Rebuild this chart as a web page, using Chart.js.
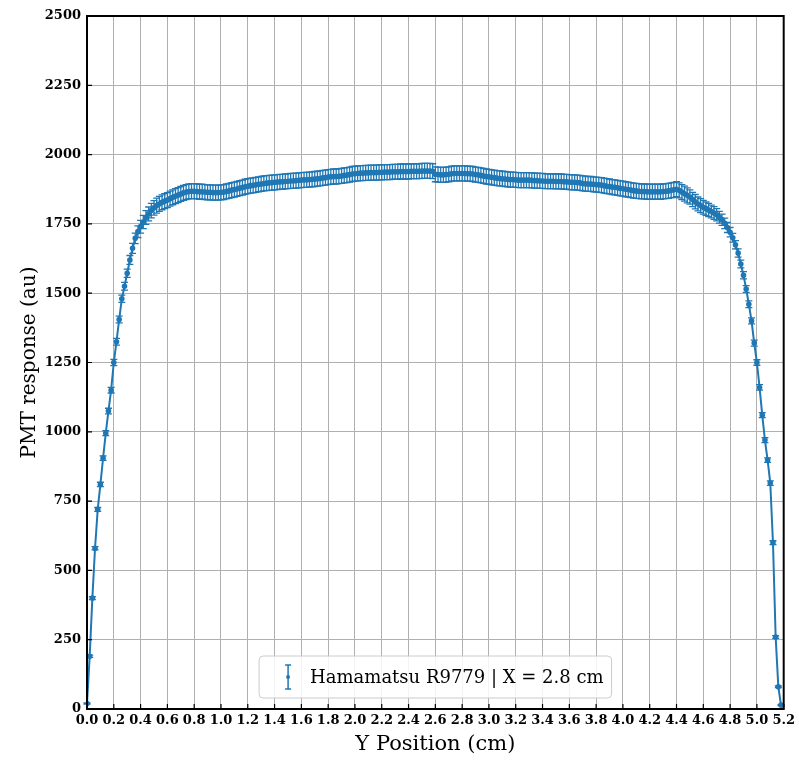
<!DOCTYPE html>
<html>
<head>
<meta charset="utf-8">
<script src="https://cdn.jsdelivr.net/npm/chart.js@4.4.1/dist/chart.umd.min.js"></script>
<style>
    html, body { margin: 0; padding: 0; background: #fff; }
    #wrap { width: 799px; height: 761px; }
</style>
</head>
<body>
<div id="wrap"><canvas id="chartPmt"></canvas></div>
<script>
// Posição Y da varredura (cm)
const yPositions = [
    0, 0.02, 0.04, 0.06, 0.08, 0.1, 0.12, 0.14, 0.16, 0.18,
    0.2, 0.22, 0.24, 0.26, 0.28, 0.3, 0.32, 0.34, 0.36, 0.38,
    0.4, 0.42, 0.44, 0.46, 0.48, 0.5, 0.52, 0.54, 0.56, 0.58,
    0.6, 0.62, 0.64, 0.66, 0.68, 0.7, 0.72, 0.74, 0.76, 0.78,
    0.8, 0.82, 0.84, 0.86, 0.88, 0.9, 0.92, 0.94, 0.96, 0.98,
    1.0, 1.02, 1.04, 1.06, 1.08, 1.1, 1.12, 1.14, 1.16, 1.18,
    1.2, 1.22, 1.24, 1.26, 1.28, 1.3, 1.32, 1.34, 1.36, 1.38,
    1.4, 1.42, 1.44, 1.46, 1.48, 1.5, 1.52, 1.54, 1.56, 1.58,
    1.6, 1.62, 1.64, 1.66, 1.68, 1.7, 1.72, 1.74, 1.76, 1.78,
    1.8, 1.82, 1.84, 1.86, 1.88, 1.9, 1.92, 1.94, 1.96, 1.98,
    2.0, 2.02, 2.04, 2.06, 2.08, 2.1, 2.12, 2.14, 2.16, 2.18,
    2.2, 2.22, 2.24, 2.26, 2.28, 2.3, 2.32, 2.34, 2.36, 2.38,
    2.4, 2.42, 2.44, 2.46, 2.48, 2.5, 2.52, 2.54, 2.56, 2.58,
    2.6, 2.62, 2.64, 2.66, 2.68, 2.7, 2.72, 2.74, 2.76, 2.78,
    2.8, 2.82, 2.84, 2.86, 2.88, 2.9, 2.92, 2.94, 2.96, 2.98,
    3.0, 3.02, 3.04, 3.06, 3.08, 3.1, 3.12, 3.14, 3.16, 3.18,
    3.2, 3.22, 3.24, 3.26, 3.28, 3.3, 3.32, 3.34, 3.36, 3.38,
    3.4, 3.42, 3.44, 3.46, 3.48, 3.5, 3.52, 3.54, 3.56, 3.58,
    3.6, 3.62, 3.64, 3.66, 3.68, 3.7, 3.72, 3.74, 3.76, 3.78,
    3.8, 3.82, 3.84, 3.86, 3.88, 3.9, 3.92, 3.94, 3.96, 3.98,
    4.0, 4.02, 4.04, 4.06, 4.08, 4.1, 4.12, 4.14, 4.16, 4.18,
    4.2, 4.22, 4.24, 4.26, 4.28, 4.3, 4.32, 4.34, 4.36, 4.38,
    4.4, 4.42, 4.44, 4.46, 4.48, 4.5, 4.52, 4.54, 4.56, 4.58,
    4.6, 4.62, 4.64, 4.66, 4.68, 4.7, 4.72, 4.74, 4.76, 4.78,
    4.8, 4.82, 4.84, 4.86, 4.88, 4.9, 4.92, 4.94, 4.96, 4.98,
    5.0, 5.02, 5.04, 5.06, 5.08, 5.1, 5.12, 5.14, 5.16, 5.18
];

// Resposta da PMT (au)
const response = [
    20, 190, 400, 580, 720, 810, 905, 995, 1075, 1150,
    1250, 1325, 1405, 1480, 1525, 1572, 1620, 1662, 1698, 1722,
    1740, 1757, 1773, 1786, 1798, 1808, 1816, 1822, 1828, 1832,
    1836, 1841, 1846, 1850, 1854, 1858, 1862, 1865, 1867, 1868,
    1868, 1867, 1866, 1866, 1865, 1864, 1864, 1863, 1863, 1863,
    1864, 1865, 1867, 1869, 1872, 1874, 1876, 1879, 1881, 1884,
    1886, 1888, 1889, 1891, 1893, 1894, 1896, 1897, 1898, 1899,
    1900, 1901, 1902, 1902, 1903, 1904, 1905, 1905, 1906, 1907,
    1908, 1909, 1909, 1910, 1911, 1912, 1913, 1914, 1916, 1917,
    1919, 1920, 1921, 1921, 1922, 1923, 1925, 1926, 1928, 1930,
    1931, 1932, 1933, 1933, 1934, 1934, 1935, 1935, 1935, 1936,
    1936, 1937, 1937, 1937, 1938, 1938, 1938, 1939, 1939, 1939,
    1939, 1940, 1940, 1940, 1940, 1941, 1941, 1941, 1941, 1940,
    1929, 1928, 1927, 1927, 1928, 1929, 1931, 1932, 1932, 1932,
    1932, 1932, 1931, 1931, 1930, 1928, 1927, 1925, 1923, 1921,
    1920, 1918, 1917, 1915, 1914, 1913, 1912, 1911, 1910, 1910,
    1909, 1908, 1908, 1908, 1908, 1908, 1907, 1906, 1906, 1905,
    1905, 1904, 1904, 1904, 1904, 1903, 1903, 1903, 1902, 1902,
    1901, 1900, 1900, 1899, 1898, 1896, 1895, 1894, 1894, 1893,
    1892, 1891, 1890, 1888, 1886, 1885, 1883, 1882, 1880, 1878,
    1877, 1875, 1874, 1872, 1870, 1869, 1868, 1867, 1867, 1866,
    1866, 1866, 1866, 1866, 1866, 1867, 1868, 1869, 1871, 1873,
    1875, 1871, 1865, 1859, 1853, 1847, 1838, 1830, 1822, 1816,
    1810, 1805, 1800, 1795, 1789, 1783, 1774, 1765, 1752, 1737,
    1720, 1700, 1675, 1645, 1605, 1565, 1515, 1460, 1400, 1320,
    1250, 1160, 1060, 970, 898, 815, 600, 260, 80, 14
];

// Incerteza de cada ponto (au)
const errors = [
    2, 4, 5, 6, 7, 8, 8, 9, 10, 10,
    11, 12, 12, 13, 14, 15, 16, 18, 19, 21,
    23, 24, 25, 25, 26, 26, 27, 27, 27, 27,
    27, 27, 27, 27, 27, 27, 27, 27, 27, 27,
    27, 27, 27, 27, 27, 27, 27, 27, 27, 27,
    27, 27, 27, 27, 27, 27, 27, 27, 27, 27,
    27, 27, 27, 27, 27, 27, 27, 27, 27, 27,
    27, 27, 27, 27, 27, 27, 27, 27, 27, 27,
    27, 27, 27, 27, 27, 27, 27, 27, 27, 27,
    27, 27, 27, 27, 27, 27, 27, 27, 27, 27,
    27, 27, 27, 27, 27, 27, 27, 27, 27, 27,
    27, 27, 27, 27, 27, 27, 27, 27, 27, 27,
    27, 27, 27, 27, 27, 27, 27, 27, 27, 27,
    27, 27, 27, 27, 27, 27, 27, 27, 27, 27,
    27, 27, 27, 27, 27, 27, 27, 27, 27, 27,
    27, 27, 27, 27, 27, 27, 27, 27, 27, 27,
    27, 27, 27, 27, 27, 27, 27, 27, 27, 27,
    27, 27, 27, 27, 27, 27, 27, 27, 27, 27,
    27, 27, 27, 27, 27, 27, 27, 27, 27, 27,
    27, 27, 27, 27, 27, 27, 27, 27, 27, 27,
    27, 27, 27, 27, 27, 27, 27, 27, 27, 27,
    27, 27, 27, 27, 27, 27, 27, 27, 27, 27,
    27, 27, 27, 27, 27, 26, 26, 26, 25, 25,
    25, 24, 24, 23, 23, 22, 21, 20, 19, 18,
    17, 16, 15, 15, 14, 13, 12, 12, 11, 11,
    10, 10, 9, 9, 8, 8, 7, 5, 3, 2
];

const seriesLabel = 'Hamamatsu R9779 | X = 2.8 cm';
const xTitle = 'Y Position (cm)';
const yTitle = 'PMT response (au)';

const BLUE = '#1f77b4';
const SERIF = '"DejaVu Serif", "Liberation Serif", serif';

// Barras de erro (desenhadas antes da linha)
const errorBars = {
    id: 'errorBars',
    beforeDatasetsDraw(chart) {
        const { ctx, scales: { x, y } } = chart;
        const cap = 3.5;
        ctx.save();
        ctx.strokeStyle = BLUE;
        ctx.lineWidth = 1.3;
        yPositions.forEach((pos, i) => {
            const px = x.getPixelForValue(pos);
            const top = y.getPixelForValue(response[i] + errors[i]);
            const bot = y.getPixelForValue(response[i] - errors[i]);
            ctx.beginPath();
            ctx.moveTo(px, top); ctx.lineTo(px, bot);
            ctx.moveTo(px - cap, top); ctx.lineTo(px + cap, top);
            ctx.moveTo(px - cap, bot); ctx.lineTo(px + cap, bot);
            ctx.stroke();
        });
        ctx.restore();
    }
};

// Moldura, ticks para dentro e legenda
const frameAndLegend = {
    id: 'frameAndLegend',
    afterDraw(chart) {
        const { ctx, chartArea: a, scales: { x, y } } = chart;
        ctx.save();

        ctx.strokeStyle = '#000';
        ctx.lineWidth = 1.2;
        ctx.beginPath();
        x.ticks.forEach(t => {
            const px = x.getPixelForValue(t.value);
            ctx.moveTo(px, a.bottom); ctx.lineTo(px, a.bottom - 5);
        });
        y.ticks.forEach(t => {
            const py = y.getPixelForValue(t.value);
            ctx.moveTo(a.left, py); ctx.lineTo(a.left + 5, py);
        });
        ctx.stroke();

        ctx.lineWidth = 2;
        ctx.strokeRect(a.left, a.top, a.right - a.left, a.bottom - a.top);

        // legenda
        ctx.font = '18px ' + SERIF;
        const tw = ctx.measureText(seriesLabel).width;
        const w = 51 + tw + 8, h = 42;
        const lx = (a.left + a.right) / 2 - w / 2;
        const ly = a.bottom - 11 - h;
        ctx.beginPath();
        ctx.roundRect(lx, ly, w, h, 4);
        ctx.fillStyle = 'rgba(255,255,255,0.85)';
        ctx.fill();
        ctx.strokeStyle = '#cccccc';
        ctx.lineWidth = 1;
        ctx.stroke();

        const ix = lx + 29, iy = ly + h / 2;
        ctx.strokeStyle = BLUE;
        ctx.lineWidth = 1.5;
        ctx.beginPath();
        ctx.moveTo(ix, iy - 12); ctx.lineTo(ix, iy + 12);
        ctx.moveTo(ix - 3, iy - 12); ctx.lineTo(ix + 3, iy - 12);
        ctx.moveTo(ix - 3, iy + 12); ctx.lineTo(ix + 3, iy + 12);
        ctx.stroke();
        ctx.fillStyle = BLUE;
        ctx.beginPath();
        ctx.arc(ix, iy, 2, 0, Math.PI * 2);
        ctx.fill();

        ctx.fillStyle = '#000';
        ctx.textAlign = 'left';
        ctx.textBaseline = 'middle';
        ctx.fillText(seriesLabel, lx + 51, iy + 1);
        ctx.restore();
    }
};

new Chart(document.getElementById('chartPmt'), {
    type: 'line',
    data: {
        datasets: [{
            label: seriesLabel,
            data: yPositions.map((pos, i) => ({ x: pos, y: response[i] })),
            borderColor: BLUE,
            backgroundColor: BLUE,
            borderWidth: 2,
            pointRadius: 1.8,
            pointHoverRadius: 0,
            tension: 0
        }]
    },
    options: {
        responsive: true,
        maintainAspectRatio: false,
        animation: false,
        layout: { padding: { top: 16, right: 14, left: 0, bottom: 0 } },
        plugins: { legend: { display: false }, tooltip: { enabled: false } },
        scales: {
            x: {
                type: 'linear',
                min: 0,
                max: 5.2,
                afterFit: (scale) => { scale.height = 52; },
                border: { display: false },
                grid: { color: '#b0b0b0', lineWidth: 1, drawTicks: false },
                ticks: {
                    stepSize: 0.2,
                    autoSkip: false,
                    maxRotation: 0,
                    padding: 4,
                    color: '#000',
                    font: { family: SERIF, size: 13, weight: 'bold' },
                    callback: (v) => Number(v).toFixed(1)
                },
                title: {
                    display: true,
                    text: xTitle,
                    color: '#000',
                    font: { family: SERIF, size: 21 },
                    padding: { top: 0, bottom: 4 }
                }
            },
            y: {
                min: 0,
                max: 2500,
                afterFit: (scale) => { scale.width = 87; },
                border: { display: false },
                grid: { color: '#b0b0b0', lineWidth: 1, drawTicks: false },
                ticks: {
                    stepSize: 250,
                    padding: 6,
                    color: '#000',
                    font: { family: SERIF, size: 13, weight: 'bold' },
                    callback: (v) => String(v)
                },
                title: {
                    display: true,
                    text: yTitle,
                    color: '#000',
                    font: { family: SERIF, size: 20 },
                    padding: { top: 18, bottom: 0 }
                }
            }
        }
    },
    plugins: [errorBars, frameAndLegend]
});
</script>
</body>
</html>
